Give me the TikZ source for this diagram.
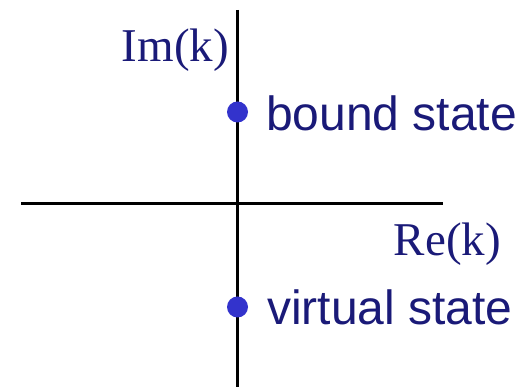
\documentclass[tikz,border=0pt]{standalone}
\usepackage{fontspec}
\setmainfont{Liberation Serif}
\setsansfont{Liberation Sans}
\definecolor{txtnavy}{RGB}{26,26,120}
\definecolor{dotblue}{RGB}{51,51,204}
\begin{document}
\begin{tikzpicture}[x=1pt,y=1pt,
  axis/.style={line width=3pt,black},
  statedot/.style={circle,fill=dotblue,inner sep=0pt,minimum size=21pt},
  serlabel/.style={inner sep=0pt,text=txtnavy,font=\fontsize{47}{47}\selectfont},
  sanslabel/.style={inner sep=0pt,text=txtnavy,font=\sffamily\fontsize{48}{48}\selectfont}]
\useasboundingbox (0,0) rectangle (528,387);
\coordinate (vtop) at (237,377);
\coordinate (vbot) at (237,0);
\coordinate (hleft) at (21,183);
\coordinate (hright) at (443,183);
\draw[axis] (vtop) -- (vbot);
\draw[axis] (hleft) -- (hright);
\node[statedot] (bound) at (237.5,275) {};
\node[statedot] (virtual) at (237.5,80) {};
\node[serlabel,anchor=base east] (im) at (229,325) {Im(k)};
\node[serlabel,anchor=base east] (re) at (501,131) {Re(k)};
\node[sanslabel,anchor=base west] (bs) at (266,256.5) {bound state};
\node[sanslabel,anchor=base west] (vs) at (267,62) {virtual state};
\end{tikzpicture}
\end{document}
